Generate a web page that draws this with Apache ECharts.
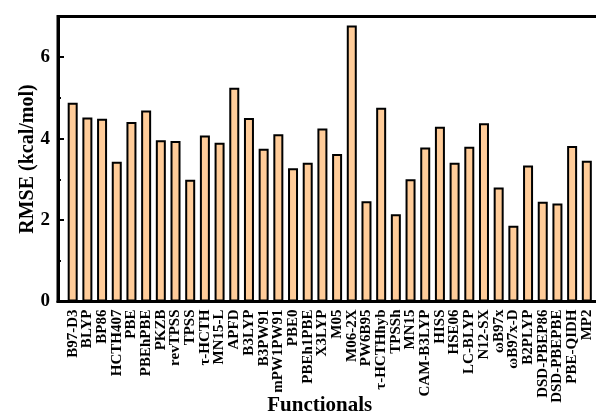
<!DOCTYPE html>
<html>
<head>
<meta charset="utf-8">
<script src="https://cdn.jsdelivr.net/npm/echarts@6/dist/echarts.min.js"></script>
<style>
  html, body { margin: 0; padding: 0; background: #fff; }
  #chart { width: 596px; height: 414px; }
</style>
</head>
<body>
<div id="chart"></div>
<script>
// Density functionals compared by root-mean-square error (kcal/mol)
const functionals = [
  'B97-D3', 'BLYP', 'BP86', 'HCTH407', 'PBE', 'PBEhPBE', 'PKZB', 'revTPSS', 'TPSS',
  'τ-HCTH', 'MN15-L', 'APFD', 'B3LYP', 'B3PW91', 'mPW1PW91', 'PBE0', 'PBEh1PBE',
  'X3LYP', 'M05', 'M06-2X', 'PW6B95', 'τ-HCTHhyb', 'TPSSh', 'MN15', 'CAM-B3LYP',
  'HISS', 'HSE06', 'LC-BLYP', 'N12-SX', 'ωB97x', 'ωB97x-D', 'B2PLYP', 'DSD-PBEP86',
  'DSD-PBEPBE', 'PBE-QIDH', 'MP2'
];
const rmse = [
  4.88, 4.52, 4.49, 3.43, 4.41, 4.69, 3.96, 3.94, 2.99,
  4.08, 3.90, 5.25, 4.51, 3.75, 4.11, 3.27, 3.41,
  4.25, 3.62, 6.78, 2.46, 4.76, 2.14, 3.00, 3.78,
  4.29, 3.41, 3.80, 4.38, 2.80, 1.86, 3.34, 2.45,
  2.41, 3.82, 3.46
];
const yTicks = [0, 2, 4, 6];

// pad one empty slot on each side so the bars sit at positions 1..n of a 0..n+1 axis
const categories = [''].concat(functionals, ['']);
const values = ['-'].concat(rmse, ['-']);

const font = '"Liberation Serif", "Times New Roman", serif';
const chart = echarts.init(document.getElementById('chart'), null, { renderer: 'canvas' });

chart.setOption({
  animation: false,
  backgroundColor: '#ffffff',
  grid: {
    left: 58, top: 16.5, bottom: 112.5, right: -5.5,
    containLabel: false, outerBoundsMode: 'none',
    show: true, borderColor: '#000', borderWidth: 3, backgroundColor: 'transparent'
  },
  xAxis: {
    type: 'category',
    data: categories,
    boundaryGap: false,
    name: 'Functionals',
    nameLocation: 'middle',
    nameGap: 94,
    nameMoveOverlap: false,
    nameTextStyle: { fontFamily: font, fontWeight: 'bold', fontSize: 21, color: '#000', padding: [0, 20, 0, 0] },
    axisLine: { lineStyle: { color: '#000', width: 3 } },
    axisTick: { show: false },
    splitLine: { show: false },
    axisLabel: {
      interval: 0, rotate: 90, margin: 8, hideOverlap: false,
      fontFamily: font, fontWeight: 'bold', fontSize: 15, color: '#000'
    }
  },
  yAxis: [
    {
      type: 'value',
      min: 0, max: 7, interval: 2,
      name: 'RMSE (kcal/mol)',
      nameLocation: 'middle',
      nameGap: 20,
      nameMoveOverlap: false,
      nameTextStyle: { fontFamily: font, fontWeight: 'bold', fontSize: 20, color: '#000' },
      axisLine: { show: true, lineStyle: { color: '#000', width: 3 } },
      axisTick: { show: true, inside: true, length: 6, lineStyle: { color: '#000', width: 2 } },
      splitLine: { show: false },
      axisLabel: {
        margin: 8, showMaxLabel: false,
        fontFamily: font, fontWeight: 'bold', fontSize: 19, color: '#000',
        formatter: v => (yTicks.indexOf(v) >= 0 ? String(v) : '')
      }
    },
    {
      // minor ticks at every unit
      type: 'value',
      position: 'left',
      min: 0, max: 7, interval: 1,
      axisLine: { show: false },
      axisTick: { show: true, inside: true, length: 3, lineStyle: { color: '#000', width: 2 } },
      splitLine: { show: false },
      axisLabel: { show: false }
    }
  ],
  series: [{
    type: 'bar',
    data: values,
    barWidth: 10,
    itemStyle: { color: '#FFCC99', borderColor: '#000', borderWidth: 2 }
  }]
});
</script>
</body>
</html>
